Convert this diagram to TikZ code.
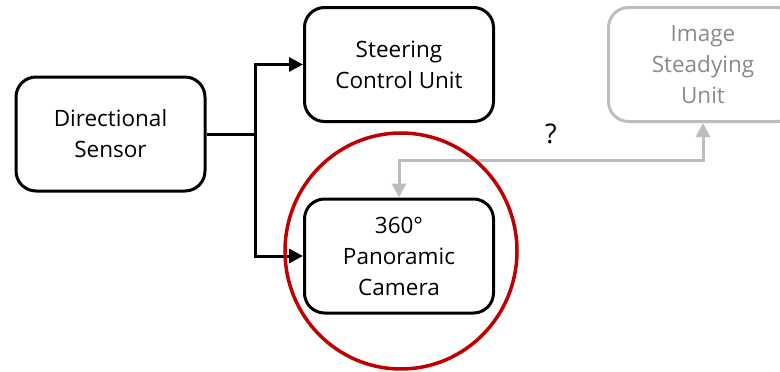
\documentclass[tikz,border=0pt]{standalone}
\usepackage{fontspec}
\setmainfont{Open Sans}
\usetikzlibrary{arrows.meta}
\definecolor{ringred}{HTML}{C00000}
\definecolor{fadeline}{HTML}{BDBDBD}
\definecolor{fadetext}{HTML}{8A8A8A}
\begin{document}
\begin{tikzpicture}[x=1pt,y=-1pt,
  unit/.style={draw, line width=3pt, rounded corners=20pt, align=center,
    minimum width=189pt, minimum height=114pt, inner sep=0pt,
    font=\fontsize{22.5}{31}\selectfont},
  fadeunit/.style={unit, draw=fadeline, text=fadetext},
  link/.style={line width=3pt, -{Triangle[length=14pt,width=14pt]}},
  fadelink/.style={line width=3pt, draw=fadeline, {Triangle[length=14pt,width=14pt]}-{Triangle[length=14pt,width=14pt]}}]
\clip (0,0) rectangle (780,372);
\useasboundingbox (0,0) rectangle (780,372);
\node[unit] (sensor) at (110.5,134) {Directional\\Sensor};
\node[unit] (steer) at (399,64.5) {Steering\\Control Unit};
\node[unit] (cam) at (399,256) {360°\\Panoramic\\Camera};
\node[fadeunit] (steady) at (703,64.5) {Image\\Steadying\\Unit};
\coordinate (j) at (255,134);
\draw[line width=3pt] (sensor.east) -- (j);
\draw[link] (j) |- (steer.west);
\draw[link] (j) |- (cam.west);
\draw[fadelink] (cam.north) |- (551,160) -| (steady.south);
\node[font=\fontsize{27}{30}\selectfont] (q) at (551,134) {?};
\draw[ringred, line width=3.5pt] (401,251) ellipse [x radius=116pt, y radius=118pt];
\end{tikzpicture}
\end{document}
